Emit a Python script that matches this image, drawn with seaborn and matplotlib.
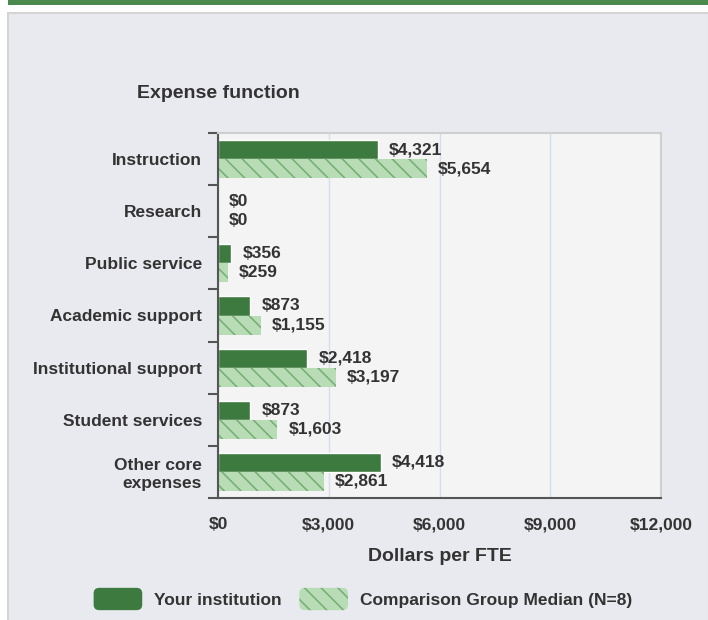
"""
plot.py — Dépenses par fonction (dollars par ETP) : établissement vs médiane du groupe.
"""

import pandas as pd
import matplotlib.pyplot as plt
import matplotlib.patches as mpatches
from matplotlib.legend_handler import HandlerPatch
from matplotlib.ticker import FixedLocator
import seaborn as sns

# ============================================================
# DONNÉES
# ============================================================

CATEGORIES = [
    "Instruction", "Research", "Public service", "Academic support",
    "Institutional support", "Student services", "Other core\nexpenses",
]
YOUR_INSTITUTION  = [4321, 0, 356, 873, 2418, 873, 4418]
COMPARISON_MEDIAN = [5654, 0, 259, 1155, 3197, 1603, 2861]
SERIES  = ["Your institution", "Comparison Group Median (N=8)"]
X_TICKS = [0, 3000, 6000, 9000, 12000]

DARK_GREEN  = "#3d7a3f"
LIGHT_GREEN = "#b8dcb5"
HATCH_GREEN = "#74ad75"
TEXT        = "#333333"
FS          = 12.5

df = pd.DataFrame({
    "category": CATEGORIES * 2,
    "value"   : YOUR_INSTITUTION + COMPARISON_MEDIAN,
    "series"  : [SERIES[0]] * len(CATEGORIES) + [SERIES[1]] * len(CATEGORIES),
})

# ============================================================
# STYLE
# ============================================================

sns.set_theme(style="white", rc={
    "text.color": TEXT, "axes.labelcolor": TEXT,
    "xtick.color": TEXT, "ytick.color": TEXT,
    "axes.labelweight": "bold",
})
plt.rcParams["font.family"] = ["Liberation Sans", "DejaVu Sans"]
plt.rcParams["font.weight"] = "bold"
plt.rcParams["hatch.linewidth"] = 1.1

fig = plt.figure(figsize=(7.08, 6.2), dpi=100)
fig.patch.set_facecolor("white")

# Panneau gris et bande verte en haut (derrière les axes)
fig.patches.append(mpatches.Rectangle(
    (8 / 708, -0.01), 701 / 708, 1.01 - 13 / 620, transform=fig.transFigure,
    facecolor="#e9eaef", edgecolor="#d4d4d4", lw=1.5, zorder=-2))
fig.patches.append(mpatches.Rectangle(
    (8 / 708, 1 - 5 / 620), 700 / 708, 5 / 620, transform=fig.transFigure,
    facecolor="#4b8a4e", edgecolor="none", zorder=-2))

ax = fig.add_axes([218 / 708, 122 / 620, 443 / 708, 365 / 620])
ax.set_zorder(1)
ax.set_facecolor("#f4f4f4")

# ============================================================
# BARRES
# ============================================================

sns.barplot(
    data=df, y="category", x="value", hue="series", orient="h",
    palette=[DARK_GREEN, LIGHT_GREEN], width=0.73, saturation=1,
    legend=False, ax=ax,
)

for bar in ax.containers[1]:
    bar.set_hatch("\\\\")
    bar.set_edgecolor(HATCH_GREEN)
    bar.set_linewidth(0)

for cont, vals in zip(ax.containers, [YOUR_INSTITUTION, COMPARISON_MEDIAN]):
    ax.bar_label(cont, labels=[f"${v:,.0f}" for v in vals], padding=8,
                 fontsize=FS, fontweight="bold", color=TEXT)

# ============================================================
# AXES
# ============================================================

ax.set_xlim(0, 12000)
ax.set_xticks(X_TICKS)
ax.set_xticklabels([f"${t:,}" for t in X_TICKS], fontsize=FS)
ax.tick_params(axis="x", length=0, pad=14)
ax.tick_params(axis="y", which="major", length=0, pad=11.5, labelsize=FS)
ax.yaxis.set_minor_locator(FixedLocator([i - 0.5 for i in range(len(CATEGORIES) + 1)]))
ax.tick_params(axis="y", which="minor", left=True, length=7.5, width=1.5, color="#555555")
for lbl in ax.get_yticklabels():
    lbl.set_multialignment("right")

ax.xaxis.grid(True, color="#d6deeb", lw=1)
ax.set_axisbelow(True)

for side in ["left", "bottom"]:
    ax.spines[side].set_color("#555555")
    ax.spines[side].set_linewidth(1.5)
for side in ["top", "right"]:
    ax.spines[side].set_color("#cfcfcf")
    ax.spines[side].set_linewidth(1.5)

ax.set_ylabel("")
ax.set_xlabel("Dollars per FTE", fontsize=14, fontweight="bold", labelpad=11.5)

fig.text(137 / 708, 1 - 93 / 620, "Expense function", fontsize=14,
         fontweight="bold", va="center", ha="left")

# ============================================================
# LÉGENDE (cases arrondies)
# ============================================================

def rounded_box(legend, orig_handle, xdescent, ydescent, width, height, fontsize):
    return mpatches.FancyBboxPatch(
        (-xdescent, -ydescent), width, height,
        boxstyle="round,pad=0,rounding_size=4")


handles = [
    mpatches.Patch(facecolor=DARK_GREEN, edgecolor="none"),
    mpatches.Patch(facecolor=LIGHT_GREEN, edgecolor=HATCH_GREEN, lw=0, hatch="\\\\"),
]
fig.legend(
    handles, SERIES, loc="center", bbox_to_anchor=(363 / 708, 1 - 599 / 620),
    ncol=2, frameon=False, handlelength=2.8, handleheight=1.6,
    handletextpad=0.7, columnspacing=1.0, fontsize=FS,
    handler_map={mpatches.Patch: HandlerPatch(patch_func=rounded_box)},
)

fig.savefig("out.png", dpi=100)
